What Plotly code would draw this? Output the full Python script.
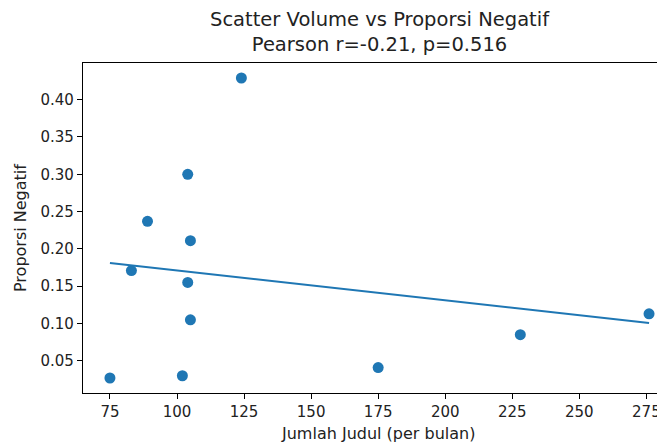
import numpy as np
import plotly.graph_objects as go

# Data
jumlah_judul = [75, 83, 89, 105, 104, 105, 102, 124, 104, 175, 228, 276]
proporsi_negatif = [0.027, 0.171, 0.237, 0.211, 0.155, 0.105, 0.030, 0.429, 0.300, 0.041, 0.085, 0.113]
x_ticks = [75, 100, 125, 150, 175, 200, 225, 250, 275]
y_ticks = [0.05, 0.10, 0.15, 0.20, 0.25, 0.30, 0.35, 0.40]
title_text = "Scatter Volume vs Proporsi Negatif<br>Pearson r=-0.21, p=0.516"

x = np.array(jumlah_judul, dtype=float)
y = np.array(proporsi_negatif, dtype=float)
slope, intercept = np.polyfit(x, y, 1)
xl = np.array([x.min(), x.max()])
yl = slope * xl + intercept

OFF = 8  # page body margin
W, H = 665 - OFF, 443 - OFF
L, R, T, B = 83 - OFF, 0, 63 - OFF, 443 - 393
FONT = "DejaVu Sans"
BLUE = "#1f77b4"
TXT = "#222"

# matplotlib-like 5% margins; full axes would end at page x=676
xspan = x.max() - x.min()
x0 = x.min() - 0.05 * xspan
x1_full = x.max() + 0.05 * xspan
px_per_unit = (676 - 83) / (x1_full - x0)
x1 = x0 + (W - L - R) / px_per_unit
yspan = y.max() - y.min()
y0 = y.min() - 0.05 * yspan
y1 = y.max() + 0.05 * yspan

fig = go.Figure()
fig.add_trace(go.Scatter(x=x, y=y, mode="markers",
                         marker=dict(color=BLUE, size=11, line=dict(width=0)),
                         showlegend=False))
fig.add_trace(go.Scatter(x=xl, y=yl, mode="lines",
                         line=dict(color=BLUE, width=2), showlegend=False))

axis_common = dict(showgrid=False, zeroline=False, showline=True, linecolor="black",
                   linewidth=1.2, ticks="outside", ticklen=5, tickwidth=1.1,
                   tickcolor="black", tickfont=dict(family=FONT, size=15, color=TXT))

fig.update_xaxes(range=[x0, x1], tickvals=x_ticks, ticktext=[str(v) for v in x_ticks],
                 mirror=True, **axis_common)
fig.update_yaxes(range=[y0, y1], tickvals=y_ticks, ticktext=[f"{v:.2f}" for v in y_ticks],
                 mirror=False, **axis_common)

axes_center_px = (83 + 676) / 2  # page coords
plot_w = W - L - R
cx = (axes_center_px - 83) / plot_w

fig.update_layout(
    width=W, height=H,
    margin=dict(l=L, r=R, t=T, b=B, pad=0),
    paper_bgcolor="white", plot_bgcolor="white",
    annotations=[
        dict(text=title_text, xref="paper", yref="paper", x=cx, y=1, yshift=63 - 32,
             xanchor="center", yanchor="middle", showarrow=False, align="center",
             font=dict(family=FONT, size=19.5, color=TXT)),
        dict(text="Jumlah Judul (per bulan)", xref="paper", yref="paper",
             x=(378 - 83) / plot_w, y=0, yshift=-40,
             xanchor="center", yanchor="middle", showarrow=False,
             font=dict(family=FONT, size=16, color=TXT)),
        dict(text="Proporsi Negatif", xref="paper", yref="paper",
             x=0, xshift=-63, y=0.5, textangle=-90,
             xanchor="center", yanchor="middle", showarrow=False,
             font=dict(family=FONT, size=16, color=TXT)),
    ],
)

fig.write_html("out.html")
